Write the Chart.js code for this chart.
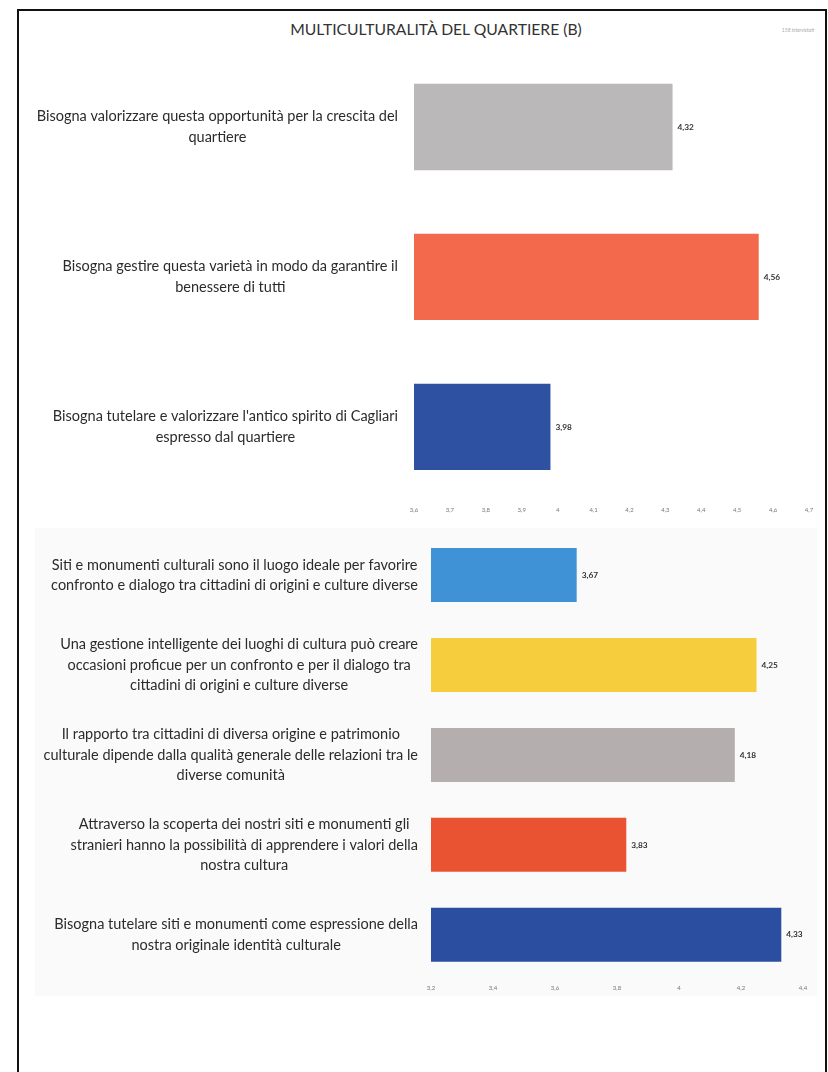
<!DOCTYPE html>
<html lang="it">
<head>
<meta charset="utf-8">
<title>Multiculturalità del quartiere (B)</title>
<script src="https://cdn.jsdelivr.net/npm/chart.js@4.4.1/dist/chart.umd.min.js"></script>
<style>
  html, body { margin: 0; padding: 0; background: #fff; }
  body { width: 828px; height: 1072px; position: relative; overflow: hidden; font-family: Lato, "Open Sans", sans-serif; }
  .frame { position: absolute; left: 17px; top: 9px; right: 1px; bottom: -4px; border: 2px solid #111; border-bottom: none; }
  .title { position: absolute; left: 0; width: 872px; top: 20px; text-align: center; font-size: 15.7px; color: #333; }
  .note { position: absolute; right: 14px; top: 27px; font-size: 5px; color: #aaa; font-style: italic; }
  .panel { position: absolute; left: 35px; top: 528px; width: 782px; height: 468px; background: #f9faf9; }
  .box { position: absolute; left: 0; width: 828px; }
  #box1 { top: 52px; height: 467px; }
  #box2 { top: 530px; height: 467px; }
</style>
</head>
<body>
<div class="frame"></div>
<div class="title">MULTICULTURALITÀ DEL QUARTIERE (B)</div>
<div class="note">158 intervistati</div>
<div class="panel"></div>
<div class="box" id="box1"><canvas id="chartTop"></canvas></div>
<div class="box" id="box2"><canvas id="chartBottom"></canvas></div>

<script>
// upper block: how to deal with the neighbourhood's variety
var topLabels = [
  ['Bisogna valorizzare questa opportunità per la crescita del', 'quartiere'],
  ['Bisogna gestire questa varietà in modo da garantire il', 'benessere di tutti'],
  ["Bisogna tutelare e valorizzare l'antico spirito di Cagliari", 'espresso dal quartiere']
];
var topValues = [4.32, 4.56, 3.98];
var topColors = ['#bab8b8', '#f26a4b', '#2f51a2'];
var topTicks = { min: 3.6, max: 4.7, step: 0.1 };

// lower block: cultural sites and dialogue
var bottomLabels = [
  ['Siti e monumenti culturali sono il luogo ideale per favorire', 'confronto e dialogo tra cittadini di origini e culture diverse'],
  ['Una gestione intelligente dei luoghi di cultura può creare', 'occasioni proficue per un confronto e per il dialogo tra', 'cittadini di origini e culture diverse'],
  ['Il rapporto tra cittadini di diversa origine e patrimonio', 'culturale dipende dalla qualità generale delle relazioni tra le', 'diverse comunità'],
  ['Attraverso la scoperta dei nostri siti e monumenti gli', 'stranieri hanno la possibilità di apprendere i valori della', 'nostra cultura'],
  ['Bisogna tutelare siti e monumenti come espressione della', 'nostra originale identità culturale']
];
var bottomValues = [3.67, 4.25, 4.18, 3.83, 4.33];
var bottomColors = ['#3f92d6', '#f6cd3c', '#b4aeae', '#ea5331', '#2c4ea0'];
var bottomTicks = { min: 3.2, max: 4.4, step: 0.2 };

function comma(v, digits) {
  var s = (Math.round(v * 100) / 100).toFixed(digits);
  if (digits === 1 && s.slice(-2) === '.0') s = s.slice(0, -2);
  return s.replace('.', ',');
}

// value printed just past the end of each bar
var valueLabels = {
  id: 'valueLabels',
  afterDatasetsDraw: function (chart) {
    var ctx = chart.ctx;
    var ds = chart.data.datasets[0];
    ctx.save();
    ctx.font = 'bold 8.3px Lato, sans-serif';
    ctx.fillStyle = '#333';
    ctx.textAlign = 'left';
    ctx.textBaseline = 'middle';
    chart.getDatasetMeta(0).data.forEach(function (bar, i) {
      ctx.fillText(comma(ds.data[i], 2), bar.x + 5, bar.y);
    });
    ctx.restore();
  }
};

// category text: block right-aligned to the plot, lines centred inside the block
var categoryLabels = {
  id: 'categoryLabels',
  afterDraw: function (chart, args, opts) {
    var ctx = chart.ctx;
    var yScale = chart.scales.y;
    ctx.save();
    ctx.font = '14.5px Lato, sans-serif';
    ctx.fillStyle = '#2b2b2b';
    ctx.textAlign = 'center';
    ctx.textBaseline = 'middle';
    chart.data.labels.forEach(function (lines, i) {
      var cy = yScale.getPixelForTick(i);
      var widest = 0;
      lines.forEach(function (l) { widest = Math.max(widest, ctx.measureText(l).width); });
      var cx = chart.chartArea.left - opts.gap - widest / 2;
      lines.forEach(function (l, k) {
        ctx.fillText(l, cx, cy + (k - (lines.length - 1) / 2) * 20.3);
      });
    });
    ctx.restore();
  }
};

function makeChart(id, labels, values, colors, ticks, opts) {
  return new Chart(document.getElementById(id), {
    type: 'bar',
    data: {
      labels: labels,
      datasets: [{
        data: values,
        backgroundColor: colors,
        borderWidth: 0,
        barPercentage: opts.barPct,
        categoryPercentage: 1
      }]
    },
    options: {
      indexAxis: 'y',
      responsive: true,
      maintainAspectRatio: false,
      animation: false,
      layout: { padding: { left: 0, right: opts.padRight, top: 0, bottom: 0 } },
      plugins: {
        legend: { display: false },
        tooltip: { enabled: false },
        categoryLabels: { gap: opts.gap }
      },
      scales: {
        x: {
          min: ticks.min,
          max: ticks.max,
          grid: { display: false, drawTicks: false },
          border: { display: false },
          ticks: {
            stepSize: ticks.step,
            padding: 5,
            maxRotation: 0,
            color: '#777',
            font: { family: 'Lato', size: 6 },
            callback: function (v) { return comma(v, 1); }
          }
        },
        y: {
          grid: { display: false, drawTicks: false },
          border: { display: false },
          afterFit: function (scale) { scale.width = opts.axisWidth; },
          ticks: { display: false }
        }
      }
    },
    plugins: [valueLabels, categoryLabels]
  });
}

makeChart('chartTop', topLabels, topValues, topColors, topTicks,
  { barPct: 0.576, axisWidth: 414, gap: 16, padRight: 19 });
makeChart('chartBottom', bottomLabels, bottomValues, bottomColors, bottomTicks,
  { barPct: 0.6, axisWidth: 431, gap: 13, padRight: 25 });
</script>
</body>
</html>
